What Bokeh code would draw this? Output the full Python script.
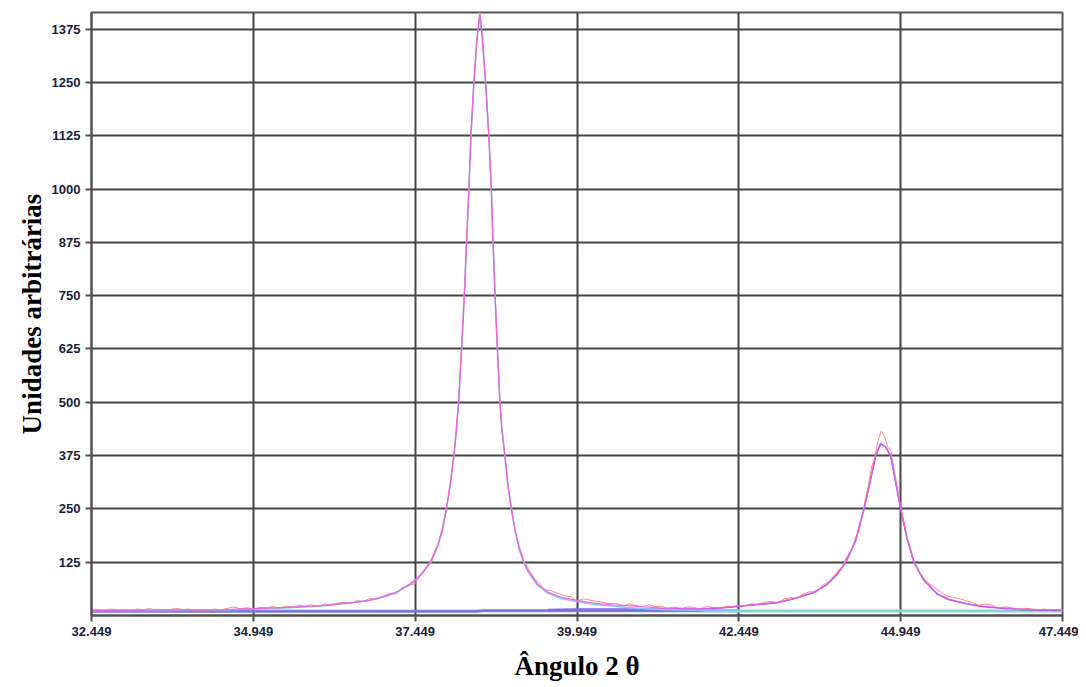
from bokeh.plotting import figure
from bokeh.models import FixedTicker, Range1d
from bokeh.embed import file_html
from bokeh.resources import INLINE

# ---- axis ticks ----
x_ticks = [32.449, 34.949, 37.449, 39.949, 42.449, 44.949, 47.449]
x_tick_labels = ["32.449", "34.949", "37.449", "39.949", "42.449", "44.949", "47.449"]
y_ticks = [125, 250, 375, 500, 625, 750, 875, 1000, 1125, 1250, 1375]

# ---- observed pattern (red, noisy) ----
obs_x = [32.45, 32.55, 32.65, 32.75, 32.85, 32.95, 33.05, 33.15, 33.25, 33.35,
         33.45, 33.55, 33.65, 33.75, 33.85, 33.95, 34.05, 34.15, 34.25, 34.35,
         34.45, 34.55, 34.65, 34.75, 34.85, 34.95, 35.05, 35.15, 35.25, 35.35,
         35.45, 35.55, 35.65, 35.75, 35.85, 35.95, 36.05, 36.15, 36.25, 36.35,
         36.45, 36.55, 36.65, 36.75, 36.85, 36.95, 37.05, 37.15, 37.25, 37.35,
         37.45, 37.55,
         37.69, 37.8, 37.87, 37.93, 37.99, 38.047, 38.085, 38.12, 38.166, 38.208,
         38.243, 38.279, 38.31, 38.356, 38.40, 38.449, 38.49, 38.537, 38.588, 38.625,
         38.652, 38.683, 38.72, 38.758, 38.79, 38.835, 38.88, 38.934, 39.0, 39.06,
         39.129, 39.2, 39.3,
         39.35, 39.45, 39.55, 39.65, 39.75, 39.85, 39.95, 40.05, 40.15, 40.25,
         40.35, 40.45, 40.55, 40.65, 40.75, 40.85, 40.95, 41.05, 41.15, 41.25,
         41.35, 41.45, 41.55, 41.65, 41.75, 41.85, 41.95, 42.05, 42.15, 42.25,
         42.35, 42.45, 42.55, 42.65, 42.75, 42.85, 42.95, 43.05, 43.15, 43.25,
         43.35, 43.45, 43.55, 43.65, 43.75, 43.85, 43.95,
         44.0, 44.05, 44.1, 44.15, 44.2, 44.25, 44.3, 44.35, 44.4, 44.45,
         44.5, 44.55, 44.6, 44.65, 44.7, 44.75, 44.8, 44.85, 44.9, 44.95,
         45.0, 45.05, 45.1, 45.15, 45.2, 45.25, 45.3,
         45.35, 45.45, 45.55, 45.65, 45.75, 45.85, 45.95, 46.05, 46.15, 46.25,
         46.35, 46.45, 46.55, 46.65, 46.75, 46.85, 46.95, 47.05, 47.15, 47.25,
         47.35, 47.45]
obs_y = [13, 14, 12, 15, 13, 14, 12, 15, 13, 16,
         12, 14, 13, 17, 14, 15, 12, 13, 11, 15,
         13, 17, 20, 16, 18, 15, 19, 18, 21, 17,
         22, 20, 24, 22, 25, 21, 27, 24, 29, 31,
         28, 35, 33, 40, 37, 45, 52, 50, 65, 70,
         75, 99,
         130, 168, 206, 247, 310, 372, 440, 497, 630, 748,
         880, 996, 1130, 1246, 1350, 1418, 1340, 1255, 1120, 1004,
         872, 755, 620, 506, 430, 380, 305, 256, 192, 162,
         128, 110, 84,
         78, 60, 58, 52, 47, 44, 34, 39, 36, 33,
         31, 28, 29, 22, 27, 24, 20, 25, 21, 22,
         16, 20, 15, 20, 19, 15, 21, 19, 17, 22,
         21, 24, 22, 28, 25, 31, 33, 30, 39, 42,
         40, 51, 56, 55, 72, 80, 99,
         108, 112, 133, 145, 155, 183, 195, 232, 270, 305,
         348, 372, 410, 432, 420, 395, 385, 340, 298, 255,
         220, 178, 158, 130, 114, 98, 91,
         80, 68, 57, 46, 43, 40, 35, 31, 24, 27,
         25, 18, 20, 19, 14, 17, 16, 12, 15, 13,
         14, 12]

# ---- fitted total profile (magenta) ----
fit_x = [32.449, 33.0, 33.5, 34.0, 34.5, 34.949, 35.5, 36.0, 36.25, 36.5,
         36.75, 37.0, 37.2, 37.4, 37.55, 37.69, 37.8, 37.87, 37.93, 37.99,
         38.047, 38.085, 38.12, 38.166, 38.208, 38.243, 38.279, 38.31, 38.356, 38.40,
         38.449, 38.49, 38.537, 38.588, 38.625, 38.652, 38.683, 38.72, 38.758, 38.79,
         38.835, 38.88, 38.934, 39.0, 39.06, 39.129, 39.2, 39.336, 39.5, 39.696,
         39.97, 40.2, 40.5, 40.73, 41.0, 41.25, 41.5, 41.75, 42.0, 42.25,
         42.449, 42.7, 43.04, 43.3, 43.609, 43.8, 43.97, 44.099, 44.25, 44.382,
         44.47, 44.562, 44.64, 44.72, 44.795, 44.87, 44.949, 45.05, 45.155, 45.3,
         45.516, 45.7, 45.83, 45.98, 46.2, 46.5, 46.8, 47.1, 47.449]
fit_y = [12, 12, 13, 13, 14, 16, 19, 23, 27, 31,
         36, 46, 58, 77, 98, 125, 165, 200, 250, 305,
         375, 435, 500, 625, 750, 875, 1000, 1125, 1250, 1345,
         1411, 1350, 1250, 1125, 1000, 875, 750, 625, 500, 435,
         375, 310, 250, 195, 155, 125, 103, 74, 55, 43,
         35, 29, 25, 23, 20, 18, 17, 16, 17, 19,
         22, 26, 31, 40, 55, 72, 98, 125, 175, 250,
         310, 375, 404, 395, 375, 315, 250, 180, 125, 85,
         51, 38, 33, 28, 22, 18, 15, 14, 13]

# ---- first peak component (light blue) ----
comp1_x = [32.449, 33.0, 33.5, 34.0, 34.5, 34.949, 35.5, 36.0, 36.25, 36.5,
           36.75, 37.0, 37.2, 37.4, 37.55, 37.69, 37.8, 37.87, 37.93, 37.99,
           38.047, 38.085, 38.12, 38.166, 38.208, 38.243, 38.279, 38.31, 38.356, 38.40,
           38.449, 38.49, 38.537, 38.588, 38.625, 38.652, 38.683, 38.72, 38.758, 38.79,
           38.835, 38.88, 38.934, 39.0, 39.06, 39.129, 39.2, 39.336, 39.5, 39.696,
           39.97, 40.2, 40.5, 40.73, 41.0, 41.25, 41.5, 41.75, 42.0, 42.25,
           42.449]
comp1_y = [12, 12, 12, 13, 13, 15, 18, 22, 26, 30,
           35, 45, 57, 76, 97, 124, 164, 199, 249, 304,
           374, 434, 499, 624, 749, 874, 999, 1124, 1249, 1344,
           1410, 1349, 1249, 1124, 999, 874, 749, 624, 499, 434,
           373, 308, 248, 193, 153, 123, 101, 71, 52, 40,
           32, 26, 22, 19, 16, 14, 13, 12.5, 12, 11.5,
           11.5]

# ---- second peak component (violet) ----
comp2_x = [39.5, 39.97, 40.5, 41.0, 41.5, 42.0, 42.449, 42.7, 43.04, 43.3,
           43.609, 43.8, 43.97, 44.099, 44.25, 44.382, 44.47, 44.562, 44.64, 44.72,
           44.795, 44.87, 44.949, 45.05, 45.155, 45.3, 45.516, 45.7, 45.83, 45.98,
           46.2, 46.5, 46.8, 47.1, 47.449]
comp2_y = [14, 15, 15, 15, 15, 16, 21, 25, 30, 39,
           54, 71, 97, 124, 174, 249, 309, 374, 403, 394,
           374, 314, 249, 179, 124, 84, 50, 37, 32, 27,
           21, 17, 14, 13, 12]

# ---- backgrounds ----
bg_blue_x = [32.449, 38.40, 38.50, 42.449]
bg_blue_y = [10, 10, 11, 11]
bg_teal_x = [41.9, 47.449]
bg_teal_y = [10.5, 10.5]

p = figure(width=1078, height=684, output_backend="svg", toolbar_location=None,
           x_range=Range1d(32.449, 47.449), y_range=Range1d(0, 1414),
           min_border_left=91, min_border_right=16, min_border_top=12,
           min_border_bottom=69)
p.background_fill_color = "white"
p.border_fill_color = "white"
p.outline_line_color = "#555555"
p.outline_line_width = 2

p.line(bg_blue_x, bg_blue_y, line_color="#7a7ad8", line_width=3)
p.line(bg_teal_x, bg_teal_y, line_color="#8fd0d0", line_width=3)
p.line(comp2_x, comp2_y, line_color="#8a5cf0", line_width=1.5)
p.line(comp1_x, comp1_y, line_color="#8cc8ff", line_width=1.5)
p.line(obs_x, obs_y, line_color="#ff8a8a", line_width=1)
p.line(fit_x, fit_y, line_color="#e060e8", line_width=1.3, line_alpha=0.9)

p.xaxis.ticker = FixedTicker(ticks=x_ticks)
p.xaxis.major_label_overrides = {t: l for t, l in zip(x_ticks, x_tick_labels)}
p.yaxis.ticker = FixedTicker(ticks=y_ticks)

for ax in (p.xaxis[0], p.yaxis[0]):
    ax.axis_line_color = "#505050"
    ax.axis_line_width = 2
    ax.major_tick_line_color = "#505050"
    ax.major_tick_line_width = 2
    ax.major_tick_out = 6
    ax.major_tick_in = 0
    ax.minor_tick_line_color = None
    ax.major_label_text_font = "Liberation Sans"
    ax.major_label_text_font_size = "13px"
    ax.major_label_text_font_style = "bold"
    ax.major_label_text_color = "#1c1c3c"
    ax.axis_label_text_font = "Liberation Serif"
    ax.axis_label_text_font_size = "27px"
    ax.axis_label_text_font_style = "bold"
    ax.axis_label_text_color = "black"

p.xaxis.axis_label = "Ângulo 2 θ"
p.yaxis.axis_label = "Unidades arbitrárias"
p.xaxis.axis_label_standoff = 12
p.yaxis.axis_label_standoff = 2

p.xgrid.grid_line_color = "#454545"
p.xgrid.grid_line_width = 2
p.ygrid.grid_line_color = "#454545"
p.ygrid.grid_line_width = 2

open("out.html", "w").write(file_html(p, INLINE))
